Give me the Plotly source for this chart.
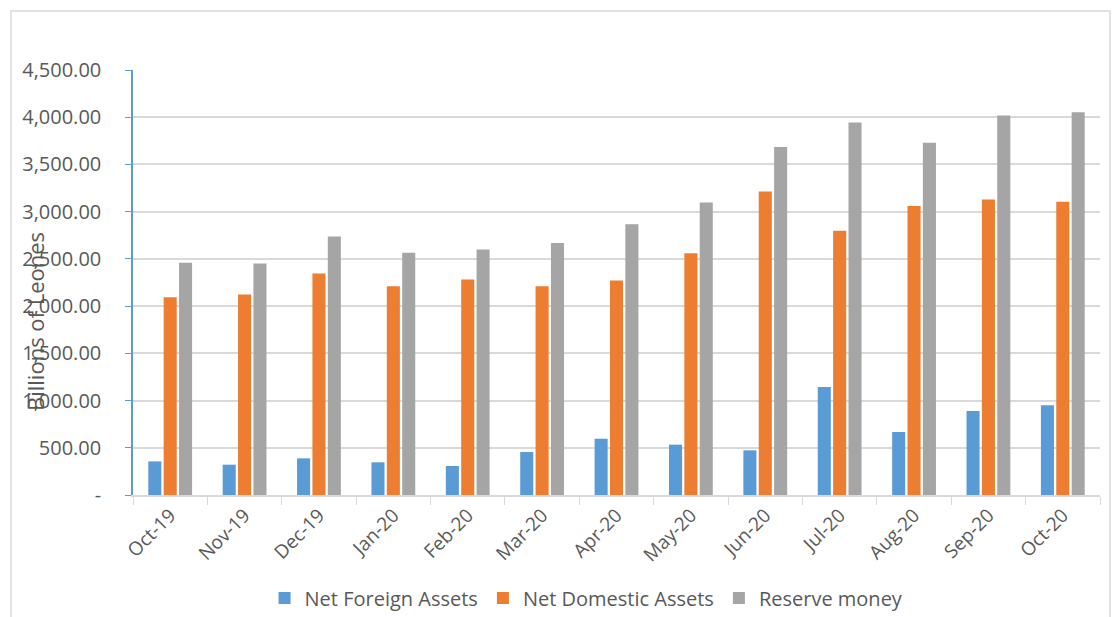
import plotly.graph_objects as go

categories = ["Oct-19", "Nov-19", "Dec-19", "Jan-20", "Feb-20", "Mar-20", "Apr-20",
              "May-20", "Jun-20", "Jul-20", "Aug-20", "Sep-20", "Oct-20"]
net_foreign_assets = [356, 321, 388, 346, 307, 455, 596, 533, 473, 1144, 667, 890, 949]
net_domestic_assets = [2093, 2122, 2344, 2210, 2281, 2210, 2270, 2559, 3213, 2797, 3061, 3128, 3104]
reserve_money = [2458, 2450, 2736, 2564, 2599, 2669, 2867, 3096, 3686, 3944, 3729, 4018, 4053]

y_tickvals = [0, 500, 1000, 1500, 2000, 2500, 3000, 3500, 4000, 4500]
y_ticktext = ["-", "500.00", "1,000.00", "1,500.00", "2,000.00", "2,500.00",
              "3,000.00", "3,500.00", "4,000.00", "4,500.00"]

FONT = "Open Sans"
TXT = "#595959"

fig = go.Figure()
fig.add_trace(go.Bar(name="Net Foreign Assets", x=categories, y=net_foreign_assets,
                     marker=dict(color="#5B9BD5", line=dict(width=0))))
fig.add_trace(go.Bar(name="Net Domestic Assets", x=categories, y=net_domestic_assets,
                     marker=dict(color="#ED7D31", line=dict(width=0))))
fig.add_trace(go.Bar(name="Reserve money", x=categories, y=reserve_money,
                     marker=dict(color="#A5A5A5", line=dict(width=0))))

fig.update_layout(
    width=1113, height=617,
    margin=dict(l=133, r=13, t=70, b=122, autoexpand=False),
    paper_bgcolor="white", plot_bgcolor="white",
    barmode="group", bargap=0.38, bargroupgap=0.15,
    font=dict(family=FONT, color=TXT, size=18),
    showlegend=True,
    legend=dict(orientation="h", x=0.527, xanchor="center", xref="container",
                y=(617 - 598) / 617, yanchor="middle", yref="container",
                font=dict(family=FONT, size=20, color=TXT),
                itemwidth=30, traceorder="normal", bgcolor="rgba(0,0,0,0)"),
    xaxis=dict(
        showline=True, linecolor="#D9D9D9", linewidth=1.5,
        ticks="outside", tickson="boundaries", ticklen=8, tickcolor="#D9D9D9",
        tickangle=-45, tickfont=dict(family=FONT, size=19, color=TXT),
        showgrid=False, automargin=False,
    ),
    yaxis=dict(
        range=[0, 4500], tickvals=y_tickvals, ticktext=y_ticktext,
        showline=True, linecolor="#5B9BD5", linewidth=1.5,
        ticks="outside", ticklen=6, tickcolor="#5B9BD5",
        ticklabelstandoff=20,
        showgrid=True, gridcolor="#D9D9D9", gridwidth=1.5,
        tickfont=dict(family=FONT, size=20, color=TXT),
        zeroline=False, automargin=False,
    ),
)

fig.add_annotation(text="Billions of Leones", textangle=-90,
                   xref="paper", yref="paper",
                   x=(35 - 133) / (1113 - 133 - 13), y=(495 - 322) / (495 - 70),
                   xanchor="center", yanchor="middle", showarrow=False,
                   font=dict(family=FONT, size=22, color=TXT))

fig.add_shape(type="rect", xref="paper", yref="paper",
              x0=(11 - 133) / 967, x1=(1110 - 133) / 967,
              y0=(495 - 625) / 425, y1=(495 - 11) / 425,
              line=dict(color="#D9D9D9", width=1.5), fillcolor="rgba(0,0,0,0)",
              layer="below")

fig.write_html("out.html")
